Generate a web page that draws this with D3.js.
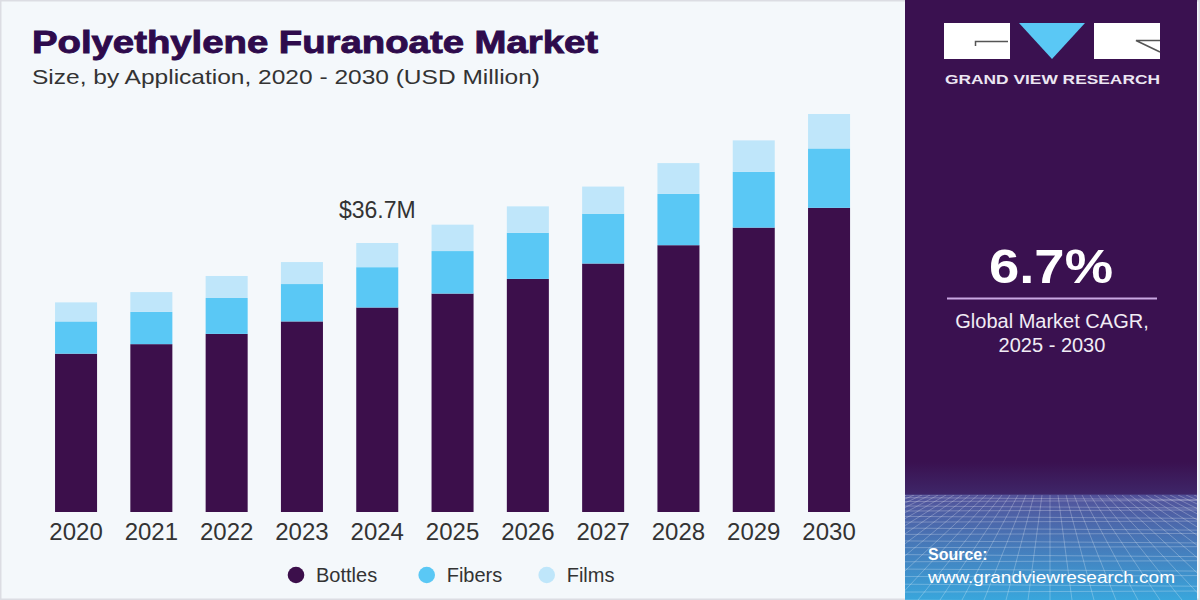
<!DOCTYPE html>
<html>
<head>
<meta charset="utf-8">
<script src="https://cdn.jsdelivr.net/npm/d3@7/dist/d3.min.js"></script>
<style>
html,body{margin:0;padding:0;background:#f4f8fb;}
svg{display:block;}
</style>
</head>
<body>
<svg id="chart" width="1200" height="600"></svg>
<script>
const years = ["2020","2021","2022","2023","2024","2025","2026","2027","2028","2029","2030"];
const bottles = [21.6, 22.9, 24.3, 26.0, 27.9, 29.8, 31.8, 33.9, 36.4, 38.8, 41.5];
const fibers  = [4.4, 4.4, 4.9, 5.1, 5.5, 5.8, 6.3, 6.8, 7.0, 7.6, 8.1];
const films   = [2.6, 2.7, 3.0, 3.0, 3.3, 3.6, 3.6, 3.7, 4.2, 4.3, 4.7];
const seriesNames = ["Bottles","Fibers","Films"];
const colors = ["#3c0f4b","#5ac8f5","#bfe6fa"];
const annotation = {year:"2024", label:"$36.7M"};

const svg = d3.select("#chart");
const W = 1200, H = 600;

// backgrounds
svg.append("rect").attr("x",0).attr("y",0).attr("width",W).attr("height",H).attr("fill","#f4f8fb");
svg.append("rect").attr("x",0.75).attr("y",0.75).attr("width",W-1.5).attr("height",H-1.5)
  .attr("fill","none").attr("stroke","#dcdde3").attr("stroke-width",1.5);

// right panel
const defs = svg.append("defs");
const grad = defs.append("linearGradient").attr("id","pg").attr("x1",0).attr("y1",0).attr("x2",0).attr("y2",1);
grad.append("stop").attr("offset","0").attr("stop-color","#3a1150");
grad.append("stop").attr("offset","0.77").attr("stop-color","#3a1150");
grad.append("stop").attr("offset","0.823").attr("stop-color","#3e2668");
grad.append("stop").attr("offset","0.826").attr("stop-color","#52529a");
grad.append("stop").attr("offset","1").attr("stop-color","#39a6dc");
const px0 = 905, px1 = 1197;
svg.append("rect").attr("x",px0).attr("y",0).attr("width",px1-px0).attr("height",H).attr("fill","url(#pg)");

// mesh decoration
const clip = defs.append("clipPath").attr("id","pc");
clip.append("rect").attr("x",px0).attr("y",495).attr("width",px1-px0).attr("height",H-495);
const mesh = svg.append("g").attr("clip-path","url(#pc)").attr("stroke","#ffffff").attr("stroke-opacity",0.25).attr("stroke-width",1).attr("fill","none");
for (let i=0;i<18;i++){ const y = 495 + Math.pow(i/17,1.3)*105; mesh.append("line").attr("x1",px0).attr("x2",px1).attr("y1",y).attr("y2",y+ (i%2?2:-1)); }
for (let i=-20;i<=40;i++){ const xt = 1050 + i*8, xb = 1050 + i*22; mesh.append("line").attr("x1",xt).attr("y1",495).attr("x2",xb).attr("y2",600); }

// logo
const logo = svg.append("g");
logo.append("rect").attr("x",944).attr("y",23).attr("width",66).attr("height",36).attr("fill","#ffffff");
logo.append("path").attr("d","M1019,23 L1085,23 L1052,59 Z").attr("fill","#5ac8f5");
logo.append("rect").attr("x",1094).attr("y",23).attr("width",66).attr("height",36).attr("fill","#ffffff");
logo.append("path").attr("d","M1008,41.5 L975.5,41.5 L975.5,46").attr("stroke","#555").attr("stroke-width",1.5).attr("fill","none");
logo.append("path").attr("d","M1160,40.5 L1136,40.5 L1160,52").attr("stroke","#555").attr("stroke-width",1.5).attr("fill","none");
logo.append("text").attr("x",945).attr("y",83.5).attr("textLength",215).attr("lengthAdjust","spacingAndGlyphs")
  .attr("font-family","'Liberation Sans',Arial,sans-serif").attr("font-weight","bold").attr("font-size",13.5)
  .attr("fill","#ece6f2").text("GRAND VIEW RESEARCH");

// CAGR
svg.append("text").attr("x",1051).attr("y",283).attr("text-anchor","middle").attr("textLength",124).attr("lengthAdjust","spacingAndGlyphs")
  .attr("font-family","'Liberation Sans',Arial,sans-serif").attr("font-weight","bold").attr("font-size",49)
  .attr("fill","#ffffff").text("6.7%");
svg.append("line").attr("x1",947).attr("x2",1157).attr("y1",298.5).attr("y2",298.5).attr("stroke","#c9a8e2").attr("stroke-width",2);
svg.append("text").attr("x",1052).attr("y",328).attr("text-anchor","middle")
  .attr("font-family","'Liberation Sans Narrow','Liberation Sans',Arial,sans-serif").attr("font-size",20)
  .attr("fill","#f1ecf5").text("Global Market CAGR,");
svg.append("text").attr("x",1052).attr("y",352).attr("text-anchor","middle")
  .attr("font-family","'Liberation Sans Narrow','Liberation Sans',Arial,sans-serif").attr("font-size",20)
  .attr("fill","#f1ecf5").text("2025 - 2030");

// source
svg.append("text").attr("x",928).attr("y",560).attr("font-family","'Liberation Sans',Arial,sans-serif")
  .attr("font-weight","bold").attr("font-size",16).attr("fill","#ffffff").text("Source:");
svg.append("text").attr("x",928).attr("y",583).attr("textLength",247).attr("lengthAdjust","spacingAndGlyphs")
  .attr("font-family","'Liberation Sans',Arial,sans-serif").attr("font-size",17).attr("fill","#ffffff").text("www.grandviewresearch.com");

// title
svg.append("text").attr("x",32).attr("y",53).attr("textLength",566).attr("lengthAdjust","spacingAndGlyphs")
  .attr("font-family","'Liberation Sans',Arial,sans-serif").attr("font-weight","900").attr("font-size",31)
  .attr("fill","#2e0b4c").attr("stroke","#2e0b4c").attr("stroke-width",0.9).text("Polyethylene Furanoate Market");
svg.append("text").attr("x",32).attr("y",84).attr("textLength",508).attr("lengthAdjust","spacingAndGlyphs")
  .attr("font-family","'Liberation Sans Narrow','Liberation Sans',Arial,sans-serif").attr("font-size",21)
  .attr("fill","#333333").text("Size, by Application, 2020 - 2030 (USD Million)");

// chart
const baseY = 512;
const x = d3.scaleBand().domain(years).range([38.4, 866.7]).paddingInner(0.442).paddingOuter(0.221);
const y = d3.scaleLinear().domain([0, 36.7]).range([baseY, 243]);

const table = years.map((yr,i)=>({year:yr, Bottles:bottles[i], Fibers:fibers[i], Films:films[i]}));
const stack = d3.stack().keys(seriesNames)(table);

svg.append("g").selectAll("g").data(stack).join("g")
  .attr("fill",(d,i)=>colors[i])
  .selectAll("rect").data(d=>d).join("rect")
  .attr("x",d=>x(d.data.year))
  .attr("width",x.bandwidth())
  .attr("y",d=>y(d[1]))
  .attr("height",d=>y(d[0])-y(d[1]));

// x axis
const xAxis = svg.append("g").attr("transform",`translate(0,${baseY})`)
  .call(d3.axisBottom(x).tickSize(0).tickPadding(0));
xAxis.select(".domain").remove();
xAxis.selectAll("text").attr("y",28).attr("dy",0)
  .attr("font-family","'Liberation Sans Narrow','Liberation Sans',Arial,sans-serif")
  .attr("font-size",24).attr("fill","#333333");

// annotation
const ai = years.indexOf(annotation.year);
const aTot = bottles[ai]+fibers[ai]+films[ai];
svg.append("text").attr("x",x(annotation.year)+x.bandwidth()/2).attr("y",y(aTot)-25)
  .attr("text-anchor","middle").attr("font-family","'Liberation Sans',Arial,sans-serif")
  .attr("font-size",23).attr("fill","#333333").text(annotation.label);

// legend
const legX = [296, 426.7, 546.7];
const leg = svg.append("g");
seriesNames.forEach((n,i)=>{
  leg.append("circle").attr("cx",legX[i]).attr("cy",575).attr("r",8.3).attr("fill",colors[i]);
  leg.append("text").attr("x",legX[i]+20).attr("y",582).attr("font-family","'Liberation Sans',Arial,sans-serif")
    .attr("font-size",20).attr("fill","#333333").text(n);
});
</script>
</body>
</html>
